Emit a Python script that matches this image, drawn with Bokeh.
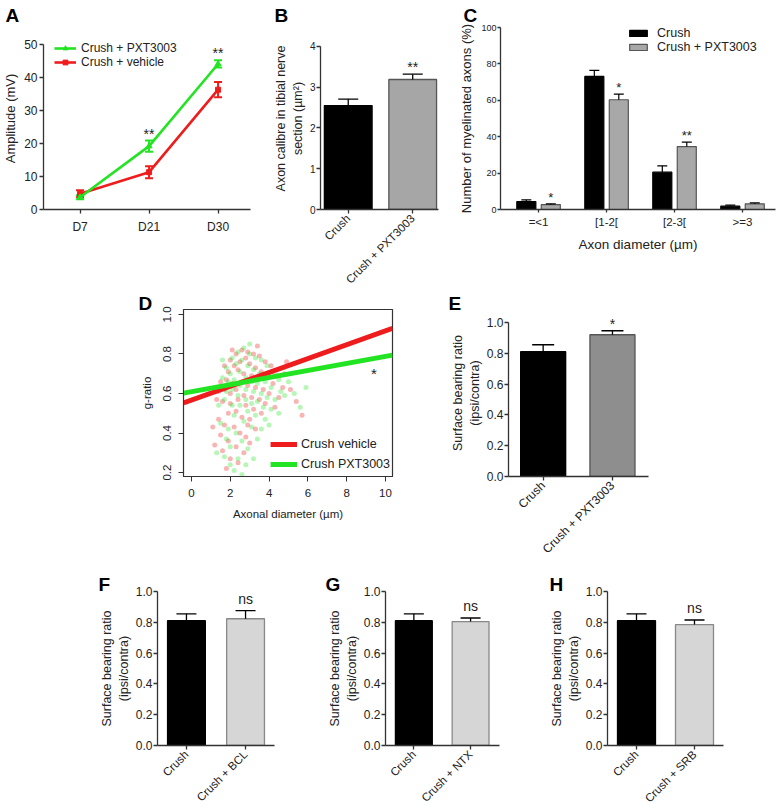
import math
from bokeh.plotting import figure
from bokeh.models import (Range1d, FixedTicker, Whisker, TeeHead, ColumnDataSource,
                          Label, LabelSet, Legend, LegendItem, PrintfTickFormatter)
from bokeh.layouts import column, row
from bokeh.embed import file_html
from bokeh.resources import INLINE
from bokeh.core.properties import value

FONT = "Liberation Sans"
INK = "#222222"
GREEN = "#22e422"
RED = "#ee1c1c"

# ---------------- data ----------------
# A: amplitude
days = ["D7", "D21", "D30"]
amp_pxt = [3.7, 19.2, 44.1]
amp_pxt_err = [0.6, 1.7, 1.1]
amp_veh = [4.8, 11.3, 36.3]
amp_veh_err = [1.0, 1.8, 2.3]
amp_sig = ["", "**", "**"]

# B: axon calibre
b_groups = ["Crush", "Crush + PXT3003"]
b_calibre = [2.55, 3.19]
b_calibre_err = [0.16, 0.13]
b_sig = ["", "**"]

# C: distribution of myelinated axons
c_bins = ["=<1", "[1-2[", "[2-3[", ">=3"]
c_crush = [4.4, 73.1, 20.5, 1.8]
c_crush_err = [0.9, 3.3, 3.5, 0.6]
c_pxt = [2.7, 60.3, 34.6, 3.1]
c_pxt_err = [0.4, 3.1, 2.4, 0.5]
c_sig = ["*", "*", "**", ""]

# D: g-ratio vs axonal diameter (approximate cloud)
d_red_x = [2.3, 2.6, 2.9, 3.2, 3.5, 2.0, 2.8, 3.8, 4.1, 1.7,
           2.2, 2.5, 3.0, 3.3, 3.6, 4.4, 1.9, 2.4, 2.7, 3.1,
           3.4, 3.9, 4.2, 4.7, 1.5, 1.8, 2.1, 2.6, 2.9, 3.3,
           3.7, 4.0, 4.5, 1.4, 1.7, 2.0, 2.3, 2.7, 3.1, 3.5,
           3.8, 4.3, 1.6, 2.0, 2.4, 2.8, 3.2, 3.6, 1.9, 2.3,
           2.6, 3.0, 4.8, 5.1, 5.4, 5.7, 4.9, 3.4, 2.1, 1.3,
           1.4, 1.7, 2.2, 1.5, 2.5, 1.9, 2.8, 1.6, 2.3, 2.0,
           1.2, 2.7, 3.3, 1.8, 2.4, 3.0, 1.1, 2.9]
d_red_y = [0.80, 0.82, 0.81, 0.80, 0.79, 0.77, 0.78, 0.76, 0.74, 0.74,
           0.74, 0.76, 0.75, 0.73, 0.71, 0.69, 0.71, 0.72, 0.70, 0.69,
           0.67, 0.68, 0.65, 0.63, 0.66, 0.67, 0.65, 0.66, 0.64, 0.63,
           0.62, 0.60, 0.58, 0.61, 0.62, 0.60, 0.62, 0.59, 0.58, 0.57,
           0.55, 0.53, 0.56, 0.55, 0.57, 0.54, 0.52, 0.50, 0.50, 0.51,
           0.48, 0.47, 0.70, 0.62, 0.56, 0.49, 0.76, 0.84, 0.82, 0.57,
           0.47, 0.44, 0.43, 0.39, 0.40, 0.36, 0.38, 0.31, 0.33, 0.27,
           0.34, 0.30, 0.42, 0.22, 0.25, 0.35, 0.43, 0.44]
d_green_x = [2.4, 2.7, 3.0, 3.3, 2.1, 2.6, 3.6, 3.9, 1.8, 2.3,
             2.9, 3.2, 3.5, 4.2, 4.5, 2.0, 2.5, 2.8, 3.1, 3.4,
             3.8, 4.1, 4.6, 1.6, 1.9, 2.2, 2.5, 2.8, 3.2, 3.6,
             3.9, 4.3, 4.8, 1.5, 1.8, 2.1, 2.4, 2.8, 3.1, 3.4,
             3.7, 4.1, 4.5, 1.7, 2.1, 2.5, 2.9, 3.3, 3.8, 2.2,
             2.7, 3.1, 5.0, 5.3, 5.6, 5.9, 4.8, 3.0, 1.6, 1.4,
             1.5, 1.9, 2.3, 2.6, 2.0, 2.9, 1.7, 2.4, 2.2, 3.4,
             2.8, 1.3, 3.6, 2.6, 2.0, 3.2, 1.8, 4.0]
d_green_y = [0.81, 0.83, 0.80, 0.78, 0.78, 0.77, 0.77, 0.74, 0.73, 0.75,
             0.74, 0.72, 0.70, 0.71, 0.67, 0.70, 0.71, 0.68, 0.66, 0.65,
             0.66, 0.63, 0.61, 0.68, 0.66, 0.67, 0.64, 0.62, 0.61, 0.60,
             0.58, 0.57, 0.59, 0.63, 0.61, 0.62, 0.59, 0.57, 0.55, 0.56,
             0.53, 0.52, 0.50, 0.57, 0.54, 0.54, 0.51, 0.49, 0.47, 0.49,
             0.46, 0.43, 0.66, 0.60, 0.53, 0.63, 0.73, 0.85, 0.77, 0.54,
             0.45, 0.42, 0.40, 0.36, 0.33, 0.32, 0.28, 0.27, 0.21, 0.37,
             0.24, 0.30, 0.42, 0.19, 0.24, 0.27, 0.37, 0.44]
d_fit_x = [-0.41, 10.36]
d_fit_red = [0.552, 0.930]
d_fit_green = [0.602, 0.794]

# E-H: surface bearing ratio
e_groups = ["Crush", "Crush + PXT3003"]
e_ratio = [0.81, 0.92]
e_err = [0.045, 0.026]
e_sig = ["", "*"]
f_groups = ["Crush", "Crush + BCL"]
f_ratio = [0.81, 0.823]
f_err = [0.045, 0.053]
g_groups = ["Crush", "Crush + NTX"]
g_ratio = [0.81, 0.805]
g_err = [0.045, 0.023]
h_groups = ["Crush", "Crush + SRB"]
h_ratio = [0.81, 0.785]
h_err = [0.045, 0.03]
fgh_sig = ["", "ns"]
ratio_ticks = [0.0, 0.2, 0.4, 0.6, 0.8, 1.0]


# ---------------- helpers ----------------
def make_fig(w, h, bl, br, bt, bb, xr, yr, letter, l_off, l_stand):
    p = figure(width=w, height=h, x_range=Range1d(*xr), y_range=Range1d(*yr),
               output_backend="svg", toolbar_location=None, title=letter,
               min_border_left=bl, min_border_right=br,
               min_border_top=bt, min_border_bottom=bb)
    p.title.text_font = FONT
    p.title.text_font_size = "19px"
    p.title.text_font_style = "bold"
    p.title.text_color = "black"
    p.title.align = "left"
    p.title.offset = l_off
    p.title.standoff = l_stand
    p.xgrid.visible = False
    p.ygrid.visible = False
    p.outline_line_color = None
    return p


def style_axes(p, tick_px, label_px, cat_px=None, tick_out=4, tick_standoff=2,
               label_standoff=3, line_color="#333333", line_width=1.3):
    for ax in p.axis:
        ax.axis_line_color = line_color
        ax.axis_line_width = line_width
        ax.major_tick_line_color = line_color
        ax.major_tick_line_width = line_width
        ax.major_tick_in = 0
        ax.major_tick_out = tick_out
        ax.minor_tick_line_color = None
        ax.major_label_text_font = FONT
        ax.major_label_text_font_size = tick_px
        ax.major_label_text_color = INK
        ax.major_label_standoff = tick_standoff
        ax.axis_label_text_font = FONT
        ax.axis_label_text_font_size = label_px
        ax.axis_label_text_font_style = "normal"
        ax.axis_label_text_color = INK
        ax.axis_label_standoff = label_standoff
    if cat_px is not None:
        p.xaxis.major_label_text_font_size = cat_px


def sig_labels(p, xs, ys, texts, size, offset):
    src = ColumnDataSource(dict(x=xs, y=ys, t=texts))
    p.add_layout(LabelSet(x="x", y="y", text="t", source=src, text_align="center",
                          text_baseline="alphabetic", y_offset=offset,
                          text_font=value(FONT), text_font_size=size, text_color=INK))


def bar_panel(w, h, borders, letter, l_off, l_stand, groups, vals, errs, fills, lines, sig,
              xr, bar_w, y_top, y_end, yticks, ylab, fmt, tick_px, cat_px, label_px, cap,
              sig_px, sig_off):
    p = make_fig(w, h, *borders, xr, (0, y_top), letter, l_off, l_stand)
    xs = list(range(len(groups)))
    hi = [v + e for v, e in zip(vals, errs)]
    src = ColumnDataSource(dict(x=xs, top=vals, hi=hi, fill=fills, line=lines))
    p.vbar(x="x", top="top", bottom=0, width=bar_w, fill_color="fill",
           line_color="line", line_width=1.3, source=src)
    p.add_layout(Whisker(base="x", upper="hi", lower="top", source=src, dimension="height",
                         line_color="black", line_width=1.3,
                         upper_head=TeeHead(size=cap, line_color="black", line_width=1.3),
                         lower_head=None, level="overlay"))
    sig_labels(p, xs, hi, sig, sig_px, sig_off)
    p.xaxis.ticker = FixedTicker(ticks=xs)
    p.xaxis.major_label_overrides = {i: g for i, g in enumerate(groups)}
    p.xaxis.major_label_orientation = math.pi / 4
    p.yaxis.ticker = FixedTicker(ticks=yticks)
    p.yaxis.bounds = (0, y_end)
    if fmt:
        p.yaxis.formatter = PrintfTickFormatter(format=fmt)
    p.yaxis.axis_label = ylab
    style_axes(p, tick_px, label_px, cat_px=cat_px, tick_standoff=1, label_standoff=2)
    p.xaxis.major_label_standoff = 3
    return p


# ---------------- row 1 (frames: top 27, bottom 209) ----------------
R1 = 294
# A
pA = make_fig(262, R1, 41, 12, 27, R1 - 209, (-0.53, 2.47), (0, 55.15), "A", -38, 4)
xa = list(range(len(days)))
srcA_g = ColumnDataSource(dict(x=xa, y=amp_pxt, lo=[v - e for v, e in zip(amp_pxt, amp_pxt_err)],
                               hi=[v + e for v, e in zip(amp_pxt, amp_pxt_err)]))
srcA_r = ColumnDataSource(dict(x=xa, y=amp_veh, lo=[v - e for v, e in zip(amp_veh, amp_veh_err)],
                               hi=[v + e for v, e in zip(amp_veh, amp_veh_err)]))
for s, c in ((srcA_r, RED), (srcA_g, GREEN)):
    pA.add_layout(Whisker(base="x", upper="hi", lower="lo", source=s, dimension="height",
                          line_color=c, line_width=2,
                          upper_head=TeeHead(size=8, line_color=c, line_width=2),
                          lower_head=TeeHead(size=8, line_color=c, line_width=2)))
rA_line = pA.line("x", "y", source=srcA_r, color=RED, line_width=2.6)
rA_pts = pA.scatter("x", "y", source=srcA_r, marker="square", size=5, color=RED)
gA_line = pA.line("x", "y", source=srcA_g, color=GREEN, line_width=2.6)
gA_pts = pA.scatter("x", "y", source=srcA_g, marker="triangle", size=6, color=GREEN)
sig_labels(pA, xa, [max(a, b) for a, b in zip(srcA_g.data["hi"], srcA_r.data["hi"])],
           amp_sig, "14px", 2)
legA = Legend(items=[LegendItem(label="Crush + PXT3003", renderers=[gA_line, gA_pts]),
                     LegendItem(label="Crush + vehicle", renderers=[rA_line, rA_pts])],
              location=(11, 140), border_line_color=None, background_fill_alpha=0,
              label_text_font=FONT, label_text_font_size="12px", label_text_color=INK,
              glyph_width=22, glyph_height=12, label_height=14, label_standoff=5,
              spacing=0, padding=1, margin=0)
pA.add_layout(legA)
pA.xaxis.ticker = FixedTicker(ticks=xa)
pA.xaxis.major_label_overrides = {i: d for i, d in enumerate(days)}
pA.yaxis.ticker = FixedTicker(ticks=[0, 10, 20, 30, 40, 50])
pA.yaxis.bounds = (0, 50)
pA.yaxis.axis_label = "Amplitude (mV)"
style_axes(pA, "12px", "13px", tick_standoff=2, label_standoff=3)
pA.xaxis.major_label_standoff = 6

# B
pB = bar_panel(178, R1, (58, 2, 27, R1 - 209), "B", -46, 4, b_groups, b_calibre, b_calibre_err,
               ["black", "#a6a6a6"], ["black", "#555555"], b_sig, (-0.43, 1.40), 0.74,
               4.466, 4, [0, 1, 2, 3, 4], "Axon calibre in tibial nerve\nsection (µm²)", None,
               "10px", "11.5px", "12.5px", 20, "14px", 2)

# C
pC = make_fig(338, R1, 60, 3, 27, R1 - 209, (-0.56, 3.485), (0, 100), "C", -37, 4)
xc = list(range(len(c_bins)))
xc_l = [x - 0.18 for x in xc]
xc_r = [x + 0.18 for x in xc]
srcC1 = ColumnDataSource(dict(x=xc_l, top=c_crush, hi=[v + e for v, e in zip(c_crush, c_crush_err)]))
srcC2 = ColumnDataSource(dict(x=xc_r, top=c_pxt, hi=[v + e for v, e in zip(c_pxt, c_pxt_err)]))
bc1 = pC.vbar(x="x", top="top", bottom=0, width=0.28, source=srcC1, fill_color="black",
              line_color="black", line_width=1.2)
bc2 = pC.vbar(x="x", top="top", bottom=0, width=0.28, source=srcC2, fill_color="#a8a8a8",
              line_color="#555555", line_width=1.2)
for s in (srcC1, srcC2):
    pC.add_layout(Whisker(base="x", upper="hi", lower="top", source=s, dimension="height",
                          line_color="black", line_width=1.2,
                          upper_head=TeeHead(size=10, line_color="black", line_width=1.2),
                          lower_head=None, level="overlay"))
sig_labels(pC, xc_r, srcC2.data["hi"], c_sig, "13px", 2)
legC = Legend(items=[LegendItem(label="Crush", renderers=[bc1]),
                     LegendItem(label="Crush + PXT3003", renderers=[bc2])],
              location=(127, 155), border_line_color=None, background_fill_alpha=0,
              label_text_font=FONT, label_text_font_size="12.5px", label_text_color=INK,
              glyph_width=22, glyph_height=8, label_height=13, label_standoff=8,
              spacing=0, padding=0, margin=0)
pC.add_layout(legC)
pC.xaxis.ticker = FixedTicker(ticks=xc)
pC.xaxis.major_label_overrides = {i: b for i, b in enumerate(c_bins)}
pC.xaxis.axis_label = "Axon diameter (µm)"
pC.yaxis.ticker = FixedTicker(ticks=[0, 20, 40, 60, 80, 100])
pC.yaxis.axis_label = "Number of myelinated axons (%)"
style_axes(pC, "9px", "13px", cat_px="11.5px", tick_out=3, tick_standoff=1, label_standoff=4)
pC.xaxis.major_label_standoff = 3
pC.xaxis.axis_label_standoff = 6
pC.xaxis.axis_label_text_font_size = "13.5px"

# ---------------- row 2 (frames: top 308, bottom 476) ----------------
R2 = 569
H2 = R2 - R1
TOP2 = 308 - R1
BOT2 = R2 - 476
pD = make_fig(430, H2, 183, 38, TOP2, BOT2, (d_fit_x[0], d_fit_x[1]), (0.18, 1.025), "D", -45, -8)
pD.outline_line_color = "#333333"
pD.outline_line_width = 1.2
pD.scatter(d_red_x, d_red_y, marker="circle", size=5, color=RED, alpha=0.33, line_color=None)
pD.scatter(d_green_x, d_green_y, marker="circle", size=5, color=GREEN, alpha=0.33, line_color=None)
rD = pD.line(d_fit_x, d_fit_red, color=RED, line_width=5)
gD = pD.line(d_fit_x, d_fit_green, color=GREEN, line_width=5)
pD.add_layout(Label(x=9.4, y=0.70, text="*", text_font=FONT, text_font_size="15px",
                    text_color=INK, text_align="center", text_baseline="alphabetic"))
legD = Legend(items=[LegendItem(label="Crush vehicle", renderers=[rD]),
                     LegendItem(label="Crush PXT3003", renderers=[gD])],
              location="bottom_right", border_line_color=None, background_fill_alpha=0,
              label_text_font=FONT, label_text_font_size="12.5px", label_text_color=INK,
              glyph_width=27, glyph_height=20, label_height=20, label_standoff=4,
              spacing=0, padding=0, margin=2)
pD.add_layout(legD)
pD.xaxis.ticker = FixedTicker(ticks=[0, 2, 4, 6, 8, 10])
pD.yaxis.ticker = FixedTicker(ticks=[0.2, 0.4, 0.6, 0.8, 1.0])
pD.yaxis.formatter = PrintfTickFormatter(format="%.1f")
pD.yaxis.major_label_orientation = "vertical"
pD.xaxis.axis_label = "Axonal diameter (µm)"
pD.yaxis.axis_label = "g-ratio"
style_axes(pD, "11.5px", "11.5px", tick_out=5, tick_standoff=7, label_standoff=8,
           line_color="#333333", line_width=1.0)

pE = bar_panel(250, H2, (78, 32, TOP2, BOT2), "E", -60, -9, e_groups, e_ratio, e_err,
               ["black", "#8e8e8e"], ["black", "#555555"], e_sig, (-0.5, 1.52), 0.65,
               (476 - 308) / 155.0, 1.0, ratio_ticks, "Surface bearing ratio\n(ipsi/contra)",
               "%.1f", "12px", "12px", "12.5px", 22, "14px", 2)

# ---------------- row 3 (frames: top 591, bottom 746) ----------------
H3 = 811 - R2
TOP3 = 591 - R2
BOT3 = 811 - 746
light = ["black", "#d6d6d6"]
light_line = ["black", "#888888"]
pF = bar_panel(300, H3, (157, 26, TOP3, BOT3), "F", -59, -6, f_groups, f_ratio, f_err,
               light, light_line, fgh_sig, (-0.49, 1.49), 0.64, 1.0, 1.0, ratio_ticks,
               "Surface bearing ratio\n(ipsi/contra)", "%.1f", "12px", "11.5px", "12.5px", 20, "14px", 7)
pG = bar_panel(225, H3, (85, 26, TOP3, BOT3), "G", -60, -6, g_groups, g_ratio, g_err,
               light, light_line, fgh_sig, (-0.5, 1.51), 0.65, 1.0, 1.0, ratio_ticks,
               "Surface bearing ratio\n(ipsi/contra)", "%.1f", "12px", "11.5px", "12.5px", 20, "14px", 7)
pH = bar_panel(253, H3, (82, 55, TOP3, BOT3), "H", -58, -6, h_groups, h_ratio, h_err,
               light, light_line, fgh_sig, (-0.5, 1.5), 0.655, 1.0, 1.0, ratio_ticks,
               "Surface bearing ratio\n(ipsi/contra)", "%.1f", "12px", "11.5px", "12.5px", 20, "14px", 7)

layout = column(row(pA, pB, pC), row(pD, pE), row(pF, pG, pH))
open("out.html", "w").write(file_html(layout, INLINE))
